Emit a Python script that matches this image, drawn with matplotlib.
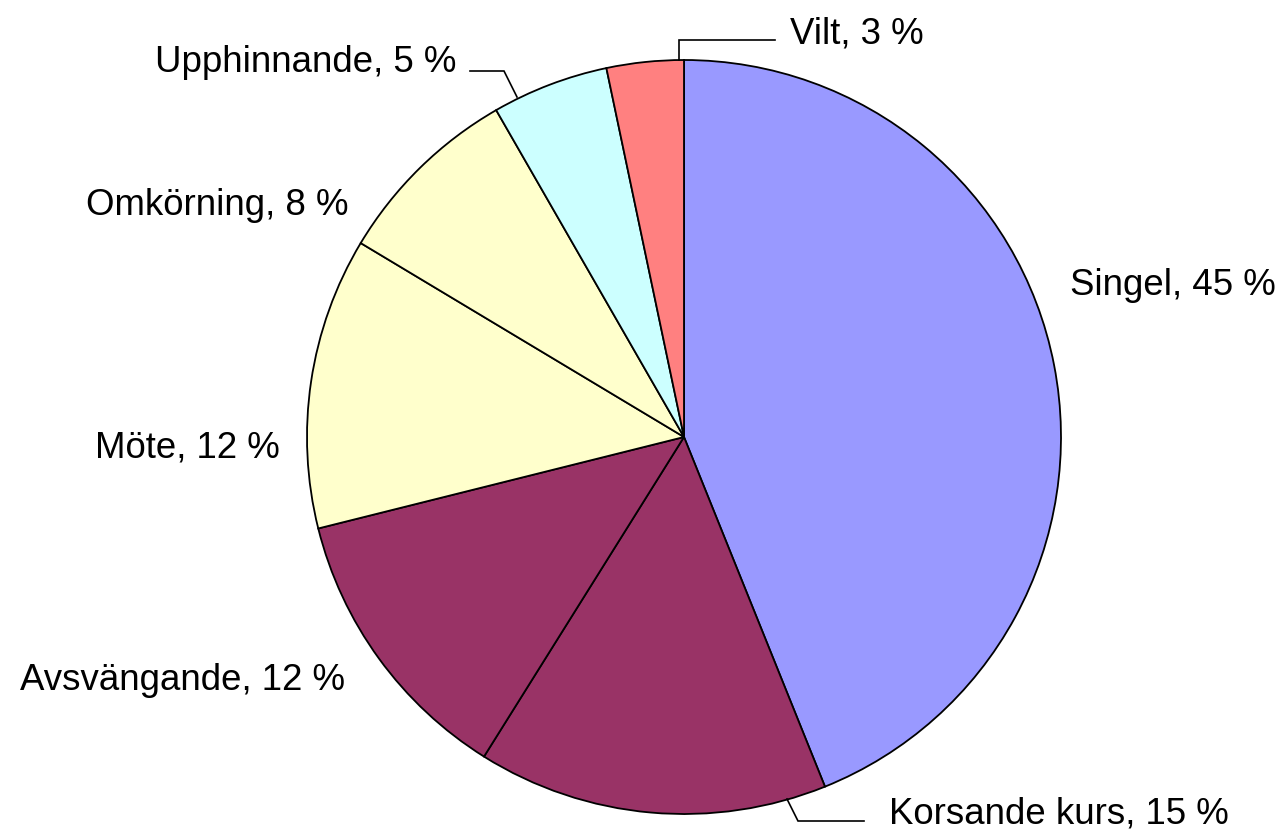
import matplotlib
matplotlib.use("Agg")
import matplotlib.pyplot as plt

# Olyckstyper, andel av dödade (slice sizes)
categories = ["Singel", "Korsande kurs", "Avsvängande", "Möte",
              "Omkörning", "Upphinnande", "Vilt"]
shares = [43.9, 15.0, 12.2, 12.5, 8.1, 5.0, 3.3]
label_pct = [45, 15, 12, 12, 8, 5, 3]
colors = ["#9999FF", "#993366", "#993366", "#FFFFCC",
          "#FFFFCC", "#CCFFFF", "#FF8080"]

W, H = 1282, 831
plt.rcParams["font.family"] = ["Liberation Sans", "DejaVu Sans"]

fig = plt.figure(figsize=(W / 100, H / 100), dpi=100)
ax = fig.add_axes([0, 0, 1, 1])

# work in pixel units, y measured from the top
cx, cy, r = 684, 437, 377
ax.pie(shares, colors=colors, startangle=90, counterclock=False,
       center=(cx, H - cy), radius=r,
       wedgeprops=dict(edgecolor="black", linewidth=1.3))
ax.set_xlim(0, W)
ax.set_ylim(0, H)
ax.set_aspect("equal")
ax.axis("off")

# label anchors (x, baseline y, alignment) in pixels
label_pos = [(1070, 295, "left"), (889, 823, "left"), (345, 690, "right"),
             (280, 457, "right"), (349, 215, "right"), (456, 72, "right"),
             (790, 43, "left")]
leaders = {
    "Vilt": [(679, 60), (679, 40), (775, 40)],
    "Upphinnande": [(517, 97), (504, 71), (470, 71)],
    "Korsande kurs": [(787, 799), (798, 821), (864, 821)],
}

for name, pct, (x, y, ha) in zip(categories, label_pct, label_pos):
    ax.text(x, H - y, f"{name}, {pct} %", ha=ha, va="baseline",
            fontsize=26.4, color="black")
    if name in leaders:
        pts = leaders[name]
        ax.plot([p[0] for p in pts], [H - p[1] for p in pts],
                color="black", linewidth=1.2, solid_joinstyle="miter")

fig.savefig("out.png", dpi=100)
